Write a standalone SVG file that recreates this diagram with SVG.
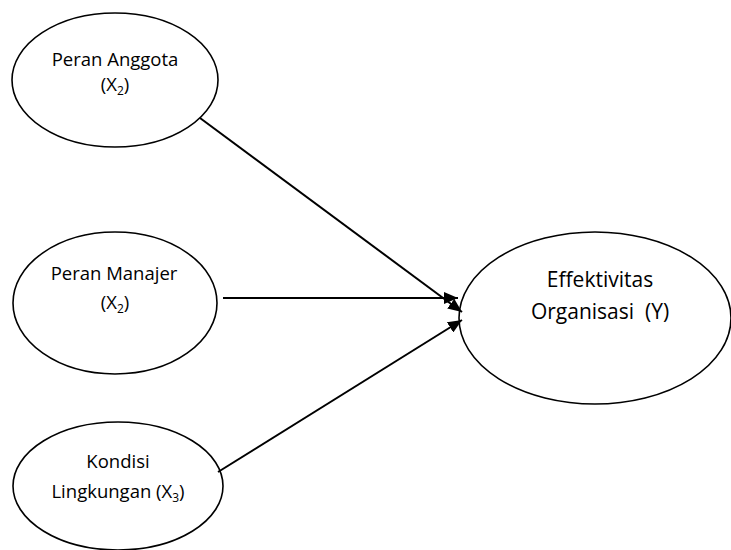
<svg xmlns="http://www.w3.org/2000/svg" width="731" height="550" viewBox="0 0 731 550">
  <style>
    .node { fill: #ffffff; stroke: #000000; stroke-width: 1.6; }
    .lbl { font-family: "Open Sans", "Liberation Sans", sans-serif; font-size: 18.5px; fill: #000000; text-anchor: middle; }
    .lbl-big { font-size: 21px; }
    .sub { font-size: 12px; }
    .edge { stroke: #000000; stroke-width: 2; fill: none; marker-end: url(#arrow); }
  </style>
  <defs>
    <marker id="arrow" markerUnits="userSpaceOnUse" markerWidth="14" markerHeight="12" refX="14" refY="6" orient="auto">
      <path d="M0,0 L14,6 L0,12 Z" fill="#000000"/>
    </marker>
  </defs>
  <rect x="0" y="0" width="731" height="550" fill="#ffffff"/>

  <g id="node-x1">
    <ellipse class="node" cx="115" cy="80" rx="103" ry="67"/>
    <text class="lbl" x="115" y="66">Peran Anggota</text>
    <text class="lbl" x="115" y="91">(X<tspan class="sub" dy="4">2</tspan><tspan dy="-4">)</tspan></text>
  </g>

  <g id="node-x2">
    <ellipse class="node" cx="115" cy="303" rx="102" ry="71"/>
    <text class="lbl" x="114" y="280">Peran Manajer</text>
    <text class="lbl" x="115" y="309">(X<tspan class="sub" dy="4">2</tspan><tspan dy="-4">)</tspan></text>
  </g>

  <g id="node-x3">
    <ellipse class="node" cx="118" cy="486" rx="105" ry="64"/>
    <text class="lbl" x="118" y="468">Kondisi</text>
    <text class="lbl" x="118" y="498">Lingkungan (X<tspan class="sub" dy="4">3</tspan><tspan dy="-4">)</tspan></text>
  </g>

  <g id="node-y">
    <ellipse class="node" cx="595" cy="318" rx="136" ry="86"/>
    <text class="lbl lbl-big" x="600" y="287">Effektivitas</text>
    <text class="lbl lbl-big" x="600" y="319" xml:space="preserve">Organisasi  (Y)</text>
  </g>

  <g id="connectors">
    <line class="edge" x1="200" y1="118" x2="462" y2="312"/>
    <line class="edge" x1="223" y1="298" x2="458" y2="298"/>
    <line class="edge" x1="218" y1="472" x2="462" y2="320"/>
  </g>
</svg>
